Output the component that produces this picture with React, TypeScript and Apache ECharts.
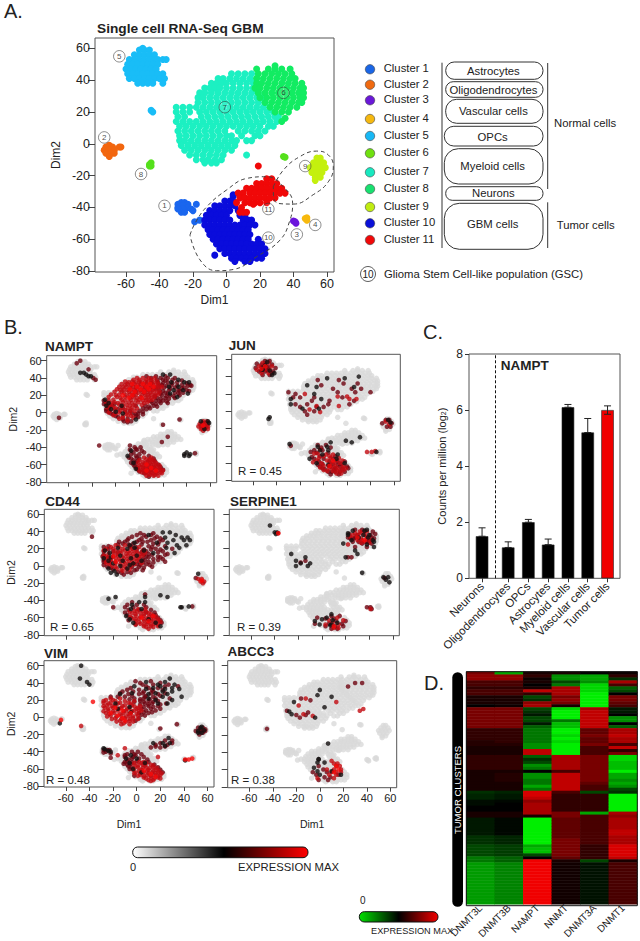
import React, { useEffect, useRef } from "react";
import * as echarts from "echarts";

// Scatter points are rows: [y, x1, x2, ...] in Dim1/Dim2 units.
type Rows = number[][];
const c1: Rows = [[-37,-27,-25],[-38,-29,-23,-18],[-39,-26],[-40,-29,-23],[-41,-26,-21,-29],[-42,-20],[-43,-27,-25],[-48,-16],[-49,-19]];
const c2: Rows = [[-1,-70],[-2,-72,-68,-64,-63],[-4,-73,-70,-67],[-6,-72,-69,-67],[-8,-70]];
const c3: Rows = [[-48.5,40],[-49,41],[-50,41.5]];
const c4: Rows = [[-46.5,48],[-47,47],[-48,48]];
const c5: Rows = [[60,-50],[59,-52,-49,-46],[56,-55,-52,-49,-46,-43],[53,-58,-55,-52,-49,-46,-43,-41,-38,-36],[50,-59,-56,-53,-50,-47,-44,-41],[47,-60,-57,-54,-51,-48,-45,-42],[44,-59,-56,-53,-50,-47,-44,-41,-38],[41,-58,-55,-52,-49,-46,-43,-40,-37],[38,-53,-50,-47,-44,-38],[21,-45],[20,-44]];
const c6: Rows = [[49,29],[47,18,25,29,33,38],[44,19,23,27,31,35,39],[41,18,22,26,30,34,38,41],[38,18,21,25,29,33,37,41,45],[35,17,20,24,28,32,36,40,44,46],[32,19,23,27,31,35,39,43,46],[29,20,24,28,32,36,40,44,46],[26,23,27,31,35,39,43,45],[23,26,30,34,38,42],[20,29,33,37],[16,35],[14,33]];
const c7: Rows = [[44,3,7,11,15],[41,-5,-2,2,6,10,14,18],[38,-9,-6,-3,0,4,8,12,16],[35,-13,-10,-7,-4,0,4,8,12,16,19],[32,-16,-13,-9,-5,-1,3,7,11,15,19],[29,-17,-14,-10,-6,-2,2,6,10,14,18,22],[26,-17,-13,-9,-5,-1,3,7,11,15,19,23],[23,-30,-26,-22,-18,-14,-10,-6,-2,2,6,10,14,18,22,26],[20,-30,-26,-22,-16,-12,-8,-4,0,4,8,12,16,20,24,28],[17,-29,-25,-15,-11,-7,-3,1,5,9,13,17,21,25,29,31],[14,-30,-26,-22,-18,-14,-10,-6,-2,2,6,10,14,18,22,26,30],[11,-28,-24,-20,-16,-12,-8,-4,0,4,8,12,16,20,25,28],[8,-29,-25,-21,-17,-13,-9,-5,-1,7,11,15,19,23],[5,-28,-24,-20,-16,-12,-8,-4,0,3,9,17,20],[2,-28,-25,-21,-17,-13,-9,-5,-1,3,6,12,15],[-1,-27,-23,-19,-15,-11,-7,-3,1,5],[-4,-25,-21,-17,-13,-9,-5,-1,3],[-7,-22,-18,-14,-10,-6,-2,12],[-10,-18,-14,-11,-7,-3],[-12,-13,-9,-6]];
const c8: Rows = [[-12,-45],[-13,-46],[-14,-46,-45],[-8,34],[-8.5,35]];
const c9: Rows = [[-9,54,56],[-12,52,55,58],[-15,50,53,56,59],[-18,51,54,57],[-21,53,56],[-23,53]];
const c10: Rows = [[-32,4],[-33,4],[-36,-1,2,4],[-39,-7,-4,-1,2,5],[-42,-10,-7,-4,-1,2,7],[-45,-12,-9,-6,-3,0,8,11],[-48,-13,-10,-7,-4,-1,2,10,13,15],[-51,-13,-10,-7,-4,-1,2,5,8,11,14,17],[-54,-11,-8,-5,-2,1,4,7,10,13],[-57,-10,-7,-4,-1,2,5,8,11,14],[-60,-8,-5,-2,1,4,7,10,13,19],[-63,-6,-3,0,3,6,9,12,15,18,21],[-66,-4,-1,2,5,8,11,14,17,20,23],[-69,-1,2,5,8,11,14,17,20,23],[-70,-7],[-72,3,6,9,12,15,18,21],[-74,5,11,14]];
const c11: Rows = [[-14,19],[-22,24,27],[-25,18,21,24,27,30],[-28,12,15,18,21,24,27,30,33],[-31,7,10,14,17,20,23,26,29,32,35],[-34,8,11,14,17,20,23,26,29],[-37,6,11,14,17,20,24],[-38,16],[-40,9],[-43,8,10,12]];

const clusterRows = [c1, c2, c3, c4, c5, c6, c7, c8, c9, c10, c11];
const clusterColors = ["#1a66ee", "#f2660f", "#6a14dc", "#f7b90e", "#19bdf7", "#12ec62", "#1cf0c2", "#55e01c", "#c4f00e", "#0a0cdc", "#f00808"];
const legendColors = ["#1a66e6", "#f06a10", "#6a18d8", "#f5b810", "#18b8f5", "#70e010", "#18e8c0", "#18e070", "#c0ec10", "#0a10d8", "#f00808"];
const clusterNames = ["Cluster 1", "Cluster 2", "Cluster 3", "Cluster 4", "Cluster 5", "Cluster 6", "Cluster 7", "Cluster 8", "Cluster 9", "Cluster 10", "Cluster 11"];
const clusterMarks = [[-37,-39,1],[-73,4,2],[42,-57,3],[53,-51,4],[-64,55,5],[34,32,6],[-1,23,7],[-51,-19,8],[47,-14,9],[25,-59,10],[25,-41,11]];
const gscOutline = [[-21.8,-57.4],[-18.8,-50],[-11.8,-39.6],[0.1,-29],[12,-21.8],[24,-20.7],[33.9,-27],[39.5,-37.5],[37.9,-48],[32,-60.5],[18,-71],[4.1,-79],[-5.9,-79.8],[-15.8,-73],[-21.8,-57.4]];
const c9Outline = [[28,-27],[34,-16.5],[43.9,-8],[53.8,-4.6],[60.8,-7],[63.8,-14.4],[60.8,-23.9],[51.8,-32],[39.9,-37.9],[31,-37.5],[28,-32.3],[28,-27]];

// Expression panels: bright / high / mid / low tiers.
const namptTop: Rows = [[33,-6,3,9],[30,-2,6,12],[27,-8,1,8],[24,-4,4],[20,-14,-6],[17,-9,2],[-60,6],[-64,10],[-67,6,14],[-15,54]];
const namptHigh: Rows = [[38,-5,0,6,10],[35,-9,-3,2,7,12],[32,-12,-7,-1,4,9,14],[29,-14,-8,-3,3,7,12,17],[26,-16,-10,-4,1,6,11],[23,-13,-6,-1,4,9,15],[20,-20,-11,-5,2,7,13],[17,-16,-8,-2,5,10],[14,-26,-12,-3,3,8],[11,-24,-18,-6,4],[8,-27,-14,-8],[5,-20,-10,-2],[2,-25,-16,-4],[-1,-20,-11],[-4,-14,-7],[-7,-17],[-12,54,56],[-15,52,55,57],[-18,53,56],[-54,6,9],[-57,3,7,11],[-60,2,6,10,14],[-63,1,5,8,12,15],[-66,3,7,10,14,18],[-69,2,6,10,14,18],[-72,9,13],
  [40,-2,3,8,13],[36,-12,-6,0,5,10,15],[33,-15,-10,-4,1,6,11,16],[30,-17,-11,-5,0,5,10,15,19],[27,-19,-13,-7,-2,4,9,14],[24,-21,-15,-9,-3,2,7,12,17],[21,-24,-17,-8,-3,5,10,16],[18,-26,-19,-12,-5,1,8,13],[15,-22,-15,-7,0,6,11],[12,-28,-21,-14,-9,-1,7],[9,-24,-17,-11,-4,2],[6,-27,-22,-15,-6],[3,-21,-12,-7],[0,-26,-17,-8],[-3,-22,-10],[-6,-14,-5],[-9,-10],[-52,4,10],[-55,0,8,12],[-58,-1,5,9,14],[-61,0,4,8,12,17],[-64,-2,3,6,10,13,17],[-67,0,4,8,12,16,20],[-70,5,8,11,15,19],[-73,6,12,16],[-10,54,57],[-13,51,53,58],[-16,50,54,58],[-19,52,55,58],[-21,54]];
const namptMid: Rows = [[42,6,14,22],[38,15,20,28],[35,16,24,32],[32,19,27,36,43],[29,21,30,38],[26,17,25,33,40],[23,22,30,37],[20,19,26,34],[17,15,22,30],[14,-30,14,20],[11,-28,11,18,24],[8,-23,-3,5,12],[5,-26,-14,3,9],[2,-28,-8,0],[-1,-24,-6,-1],[-4,-20,-3],[-7,-10],[-10,-13,-7],[-40,-4,1],[-43,-8,-2],[-46,-5,4],[-50,-3,8],[-53,-7,0,12],[-56,-2,13],[-60,-5,16],[-63,-2,18],[-66,-1,20],[-70,4],[-74,8],[-8,34],[-14,20],[-47,47],[-28,24],[-34,19],[-38,-34],[-6,-68],[57,-53],[50,-43],[38,-37],[40,-39],[60,-50],
  [40,10,18,24,30],[37,22,36],[34,10,20,28,40],[31,17,23,32,41,44],[28,14,26,36],[25,20,34,42],[22,18,24,33],[19,13,23,29],[16,18,25],[13,10,17,23],[10,-30,-21,14],[7,-25,8,15],[4,-28,-18,6],[1,-26,-12,3],[-2,-22,-3,3],[-5,-18,-1],[-8,-14],[-11,-10],[-38,-8],[-42,-3],[-44,2],[-48,-7,0],[-52,-9,-2],[-55,-5],[-58,-7,-3],[-62,-4],[-65,-2],[-68,0]];
const namptLow: Rows = [[44,20,26],[38,33],[35,27,38,42],[30,25,33],[26,29,37],[22,26,41],[18,32],[15,-29],[11,-26],[8,-28,-15],[4,-24],[1,-20],[-1,-14],[-10,52,58],[-12,59],[-19,55],[-48,38,43],[-50,38,42],[-46,40],[-44,-7],[-50,-10],[-58,-5],[-8,-3],[46,-50,-47],[44,-45],[42,-43,-41],[-65,-3]];

const junTop: Rows = [[52,-50],[49,-53],[-63,5],[-57,8]];
const junHigh: Rows = [[56,-52,-47],[52,-55,-49,-44],[48,-57,-50,-46],[44,-53,-47],[20,-16],[17,12,20],[14,22,28],[6,-6,13],[2,-12],[-1,-3],[-12,53],[-15,56],[-47,37,41],[-46,44],[-44,-3],[-50,2,8],[-54,-4,6,13],[-57,-6,3,11,16],[-60,-2,6,14],[-63,0,4,10,17],[-66,5,12,19],[-69,3,8,14],[-72,11,15],[-49,-8,-5],[-52,0,5],[-59,-9,9],[-65,-3,8,16],[-68,0,11,17]];
const junMid: Rows = [[58,-50,-46],[54,-53,-44],[50,-58,-48,-41],[46,-55,-50,-43],[42,-52,-46],[36,-5,13],[32,17,29],[30,-2],[26,8,24,32],[22,-30,12,27,40],[20,-24],[16,-26,-20,-8,16],[12,-10,5,26],[8,-24,-14,4,22],[5,-20,-6,0],[0,-16,-8],[-4,-14],[-10,53,56],[-14,50,58],[-18,54,57],[-40,-28],[-39,-5,2],[-42,-2,6],[-45,-8,-1],[-48,-6,4],[-52,-3,10],[-55,-8,0,8],[-58,-4,5,12,18],[-61,-1,8,15],[-64,-3,6,14,20],[-67,1,9,16],[-70,4,10,18],[-73,6,13],[55,-57,-50],[51,-47,-53],[47,-53,-48],[44,-44],[-47,-11],[-53,-10],[-62,-5,12],[-66,-1,10,21],[-70,14,7]];
const junLow: Rows = [[57,-48],[53,-50],[50,-52],[47,-46],[44,-42],[38,3,18],[28,-6,26],[20,-8],[14,-28,-2],[8,-28],[3,-18,-4],[-7,-46],[-9,-47],[-36,6],[-38,-29],[-41,-5,3],[-45,-3,4],[-50,-1,12],[-55,-12,11],[-60,-6,18],[-62,4],[-10,55],[-34,19],[-36,24],[-13,57],[-47,45],[-30,31],[48,-52],[42,-44],[30,-14],[40,30]];

const cd44Top: Rows = [[11,-20],[5,-18],[-60,4],[-64,10],[-58,14],[-17,55]];
const cd44High: Rows = [[24,-18,-10],[20,-26,-20,-12,-4],[17,-14,-7,0],[14,-24,-17,-9,-3,3],[11,-26,-20,-12,-5,2],[8,-22,-15,-8,-1],[5,-26,-18,-11,-4],[2,-23,-14,-7,-2],[-1,-18,-10],[-4,-13,-6],[-15,52,55],[-18,54,57],[-20,56],[-52,-2,5],[-55,-4,3,10],[-58,-1,6,13],[-61,-4,2,9,15],[-64,-1,6,12,18],[-67,3,9,15],[-70,6,12,18],[-73,10],
  [22,-22,-15,-6,2],[18,-28,-18,-10,-3,5],[15,-20,-13,-6,0,7],[12,-28,-16,-8,-1,5],[9,-25,-18,-11,-4,2],[6,-22,-14,-7,0],[3,-26,-18,-10,-3,4],[0,-21,-13,-5],[-3,-17,-9],[-6,-12],[-50,1,7],[-53,-6,0,8],[-56,-1,6,12],[-59,-6,3,10,16],[-62,-1,6,12,18],[-65,2,9,15,20],[-68,-1,6,12,18],[-71,8,14]];
const cd44Mid: Rows = [[38,3,14],[34,-4,8,17],[30,-8,2,12,22],[28,-15,5],[26,-12,-3,14],[23,-24,-5,10,24],[20,0,16,30],[17,-28,-20,8,22],[14,10,26],[11,-29,8,18],[8,5,14,22],[5,-28,2,10,24],[2,0,8],[-1,-25,-4,2,13],[-4,-20,0],[-7,-16,-8],[-10,-11],[34,-38],[-14,50],[-42,-4],[-45,-8,0,6],[-48,-10,-3,8],[-51,-7,2,12],[-54,-10,8,15],[-57,-8,16],[-60,-5,18],[-63,-7,20],[-66,21],[-68,-1],[-33,7],[-48,-20],[-47,47],
  [36,0,6,12],[32,-7,4,15,20],[28,-10,0,9,19],[25,-16,-7,4,18],[22,-28,-1,13],[19,-24,6,12,20],[16,-16,4,18],[13,-28,6,13,24],[10,-24,10,20],[7,-28,7,18],[4,-23,5,14],[1,-28,3,11],[-2,-22,6],[-5,-2,5],[-8,-13,-5]];
const cd44Low: Rows = [[39,22,28],[36,10,33],[33,24,38,43],[30,31,40,45],[27,17,26],[24,-6,34,42],[21,-16,-2,25,36],[18,-27,6],[15,-23,14,32],[12,-14,0],[9,-28,-5],[6,-24,-12,4],[3,-20,-3],[0,-14],[-3,-24,-8],[-6,-19],[-9,52],[-36,-18,7],[-38,-24],[-36,26],[-48,37,38],[-47,44],[-42,2,7],[-45,-4],[-50,-5,4],[-58,-9],[-62,-6,10],[-66,-3,16],[-70,20],[-34,20],[27,-2],[20,-8],[10,-22],[1,-6],[-8,-22],[-10,-17]];

const serTop: Rows = [[33,30],[30,36],[38,-37],[-70,10]];
const serHigh: Rows = [[38,28,33],[34,24,38],[30,30,34,41],[28,36],[25,22],[-50,41],[-60,13],[-63,6,18],[-66,9],[-68,3,14],[-72,10,14],[38,-37],[40,32,38],[36,26,30,36],[32,33,38],[27,33,40]];
const serMid: Rows = [[40,36,43],[36,30,41],[32,24,27,44],[29,40],[26,34,42],[22,28,38],[10,22,25],[6,-14],[4,-18],[-48,41],[-50,42],[-58,8,15],[-61,3,10],[-64,12,20],[-67,-6,6,17],[-70,3,11,18],[-73,8,13],[-14,53],[-48,38],[-60,-4],[42,28,34],[37,23,45],[33,22,28,42],[28,26,31,38]];
const serLow: Rows = [[47,-44],[41,26,36],[39,-40,-38],[37,-39],[36,22,35,40],[33,31,39],[30,25,43],[26,18],[22,44],[14,-26],[10,-14,20],[6,-22],[3,-10,-18],[0,-22,-12],[-8,34],[-13,52,56],[-16,54],[-19,57],[-56,8],[-60,4],[-63,9],[-66,13],[-68,-2,8],[-64,-6],[-62,0],[-69,7],[42,38],[38,22],[28,44],[25,38],[18,28],[14,30]];

const vimTop: Rows = [[11,-18],[8,-12],[5,-22,-5],[2,-16],[-1,-12],[-4,-10],[18,-37],[-3,-64],[-49,41,44],[-48,47],[-66,12],[-69,16],[-62,6]];
const vimHigh: Rows = [[20,-26,-20],[17,-28,-22,-14,-7],[14,-25,-18,-10,-4],[11,-27,-20,-13,-6,1],[8,-24,-16,-9,-2,4],[5,-26,-19,-11,-5],[2,-22,-13,-6,1],[-1,-18,-10,-3],[-4,-14,-6],[-7,-11],[-10,-47],[-44,-16],[-52,2,6],[-55,-2,5,12],[-58,1,8,14],[-61,-3,4,10,16],[-64,-1,6,13,18],[-67,3,9,15,20],[-70,6,12,18],[-73,10,14],[-46,18],[-36,-10],
  [22,-22,-14],[19,-28,-18,-10,-2],[16,-24,-16,-5],[13,-28,-21,-12,-2,3],[10,-24,-15,-8,0],[7,-28,-20,-11,-4,2],[4,-23,-14,-7,0],[1,-25,-17,-9,-3],[-2,-21,-13,-6,1],[-5,-17,-9,-3],[-8,-13,-6],[-53,-2,4,8],[-56,1,7,14],[-59,-2,5,11,17],[-62,2,9,14,19],[-65,-2,3,10,16,21],[-68,1,6,12,18],[-71,8,15,20],[-74,12]];
const vimMid: Rows = [[42,12,-1],[38,5,14,27],[34,-5,10,18],[30,-12,-3,6,14],[27,-7,2,18],[24,-22,-16,-10,7,14],[21,-6,3,11],[18,-2,6,14],[15,3,10,20],[12,6,14],[8,8,16],[5,2,10],[2,7],[-1,2],[-4,-1],[-12,52,56],[-16,50,54,58],[-20,53],[-27,24,30],[-32,16,26],[-35,12,20],[-38,-28,-23],[-40,-26],[-42,-22],[-8,34],[-13,20],[-40,-4,1],[-43,-8,-2,4],[-46,-10,-3,6],[-49,-7,9],[-52,-10,-4,10],[-55,-8,15],[-58,-5,18],[-61,20],[-64,22],[-68,-2],[-47,-22],
  [40,3,20],[36,8,24,35],[32,-8,2,13,22],[28,-14,5,12,24],[25,-4,8,20],[22,-2,6,16,28],[19,3,10,18],[16,7,13,25],[13,10,18],[10,4,12,20],[6,6,13],[3,4],[-14,54,58],[-18,56],[-30,20,30],[-34,16,24],[-38,-25],[-41,-28],[-44,-1,-10],[-48,-4,2],[-51,-8,0],[-54,-11,-5],[-57,-7],[-60,-6]];
const vimLow: Rows = [[45,-48,28],[41,-42,8,24],[38,-40,18,32],[36,-2,20],[33,8,24,36],[30,22,30],[27,-14,10,26],[24,22,38],[20,16,30],[16,-18,18,26],[10,-16],[6,-5],[-7,-65],[-12,54],[-15,57],[-18,52,55],[-24,27],[-30,14,22,28],[-33,24],[-37,-27],[-39,-24],[-44,-5],[-48,-9,0],[-53,-6,7],[-60,-3],[-64,4],[-50,41],[60,-47],[34,14,30],[28,-4,16],[22,10],[12,-6],[-36,-28],[-40,-22],[-11,55],[-16,52]];

const abcTop: Rows = [[-56,14],[-60,16],[-63,12]];
const abcHigh: Rows = [[22,-12],[18,14],[14,-18],[10,37],[8,34],[4,-14],[2,-6],[-50,10],[-53,12,15],[-56,14,17],[-60,6,12,18],[-63,10,14,18],[-66,8,14],[-70,-2,12]];
const abcMid: Rows = [[40,30,36],[36,24],[22,-16],[20,-8],[8,-28],[6,-10],[3,-20,-12],[0,-17],[-13,-45],[-56,-1],[-60,3],[-63,-6,6],[-66,-3,16],[-69,4,9],[-72,-1,7]];
const abcLow: Rows = [[32,0],[26,-2],[24,10],[18,-22],[12,4],[7,-26],[4,-24],[0,-4],[-30,7],[-48,-1,-1],[-52,-2,4],[-58,-5],[-62,-2,10],[-66,0,18]];

// Panel C
const barNames = ["Neurons", "Oligodendrocytes", "OPCs", "Astrocytes", "Myeloid cells", "Vascular cells", "Tumor cells"];
const barSlots = [0.66, 1.98, 3, 4, 5, 6, 7];
const barValues = [1.5, 1.1, 2.0, 1.2, 6.1, 5.2, 6.0];
const barTops = [1.8, 1.3, 2.1, 1.4, 6.2, 5.7, 6.15];
const barBottoms = [1.5, 1.1, 2.0, 1.2, 6.1, 5.2, 5.85];
const barFill = ["#000", "#000", "#000", "#000", "#000", "#000", "#f00000"];

// Panel D: one list per column, top row first
const heatColumns = ["DNMT3L", "DNMT3B", "NAMPT", "NNMT", "DNMT3A", "DNMT1"];
const hDNMT3L = [5,6,6,3,3,2,3,3,1,1, 1,0,5,5,5,5,5,5,5,2, 2,2,2,1.5,1.5,1,1,1,2,2, 2,2,2,1,1,1,1,1,1,1, -2,-1.5,-1.5,-0.5,-0.5,0,0,1,1,-1, -1,-1,-1,-1,-1,-2,-2,-2,-3,-3, -3,-3,-5,-5,-6.5,-6.5,-6.5,-6.5,-6.5,-6.5, -6.5,-6.5,-6.5,-6.5,-6.5,-6.5,-6.5,-6.5];
const hDNMT3B = [-7,6,6,3,3,2,3,3,1,1, 1,0.5,5,5,5,5,5,5,5,2, 2,2,2,2,1.5,1,1,1,2,2, 2,2,2,1,1.5,1.5,1.5,1,1,1, -1.5,-1,-1,-0.3,0,0,0,1,1,-0.3, -0.3,-0.3,-0.3,-0.3,-0.3,-1.5,-1.5,-1.5,-2.5,-2.5, -2.5,-2.5,-4,-4,-5.5,-5.5,-5.5,-5.5,-5.5,-5.5, -5.5,-5.5,-5.5,-5.5,-5.5,-5.5,-5.5,-5.5];
const hNAMPT = [1,2,0.5,1,0,1,8,2,-3,-2, 6,7,-3,-2,-1,-3,-3,-1,-4,-5, -5,-5,-5,-5,-6,-6,8,8,-4,-2, -3,-6,-5,0,-6,-6,-5,-5,-7,-5, 9,9,8,6,7,7,7,7,1,-10, -10,-10,-10,-10,-10,-10,-10,-10,-7,-8, -8,-3,0,10,10,10,10,10,10,10, 10,10,10,10,10,10,10,10];
const hNNMT = [1,-6,-6,-3,-5,7,7,7,5,6, 5,1,-9,-10,-10,-10,-5,-8,-8,-10, -10,-9,-10,-9,-10,-10,-10,-10,7,7, 7,7,7,3,8,8,8,8,8,8, 3,2,2,2,2,2,2,5,5,4, 4,4,4,4,4,4,5,5,5,5, 5,5,4,1,0.7,0.7,0.7,0.7,0.7,0.7, 0.7,0.7,0.7,0.7,0.7,0.7,0.7,0.7];
const hDNMT3A = [0,-7,-7,-6,-9,-9,-9,-10,-10,-10, -10,-10,7,8,8,8,8,8,8,4, 4,5,4,4,5,3,3,3,5,5, 5,5,5,5,5,5,5,4,3,3, -3,2,2,2,2,2,2,-7,3,3, 3,3,3,3,3,3,3,3,2,2, 2,2,2,-3,-0.7,-0.7,-0.7,-0.7,-0.7,-0.7, -0.7,-0.7,-0.7,-0.7,-0.7,-0.7,-0.7,-0.7];
const hDNMT1 = [0.5,2,-2,7,3,-4,-3,0,5,5, 4,3,-1,-1,0,-6,-6,0,-4,7, 7,8,7,7,3,8,2,5,-9,-9, -8,-8,-8,-10,-7,-7,-6,-7,-6,-3, -2,-10,-10,-10,-10,-10,-10,7,6,7, 7,7,7,8,8,7,7,7,9,9, 9,9,8,1,3,3,3,3,3,3, 3,3,3,3,3,3,3,3];
const heatValues = [hDNMT3L, hDNMT3B, hNAMPT, hNNMT, hDNMT3A, hDNMT1];

const xTicks = [-60, -40, -20, 0, 20, 40, 60];
const yTicks = [-80, -60, -40, -20, 0, 20, 40, 60];

const expand = (rows: Rows) => rows.flatMap((r) => r.slice(1).map((x) => [x, r[0]]));
const FONT = '"Liberation Sans", Arial, sans-serif';
const INK = "#222";

const txt = (text: string, x: number, y: number, size: number, o: any = {}) => ({
  type: "text", x, y, z: 50, rotation: o.rotation ?? 0, silent: true,
  style: {
    text, fill: o.fill ?? INK, font: `${o.bold ? "bold " : ""}${size}px ${FONT}`,
    align: o.align ?? "left", verticalAlign: "middle", textAlign: o.align ?? "left", textVerticalAlign: "middle",
  },
});
const box = (x0: number, y0: number, x1: number, y1: number, r: number, label: string, ly?: number, size = 11.3) => [
  { type: "rect", z: 40, shape: { x: x0, y: y0, width: x1 - x0, height: y1 - y0, r }, style: { fill: "#fff", stroke: "#333", lineWidth: 1 } },
  txt(label, (x0 + x1) / 2 - 1, ly ?? (y0 + y1) / 2, size, { align: "center" }),
];
const vline = (x: number, y0: number, y1: number) => ({ type: "line", z: 40, shape: { x1: x, y1: y0, x2: x, y2: y1 }, style: { stroke: "#333", lineWidth: 1 } });

const tsneAxes = (grid: number, showX: boolean, showY: boolean, nameX: boolean, nameY: boolean, size: number, ranges: number[], tick = 4) => {
  const common = { type: "value", gridIndex: grid, splitLine: { show: false }, axisLine: { show: false, onZero: false }, nameLocation: "middle", nameTextStyle: { color: INK, fontFamily: FONT, fontSize: size - 0.5 } };
  const lab = { color: INK, fontFamily: FONT, fontSize: size, margin: 5 };
  return {
    x: { ...common, min: ranges[0], max: ranges[1], name: nameX ? "Dim1" : "", nameGap: grid === 0 ? 22 : 31, axisTick: { length: tick, lineStyle: { color: "#444" }, customValues: xTicks }, axisLabel: showX ? { ...lab, customValues: xTicks } : { show: false } },
    y: { ...common, min: ranges[2], max: ranges[3], name: nameY ? "Dim2" : "", nameGap: grid === 0 ? 33 : 28, axisTick: { length: tick + 2, lineStyle: { color: "#444" }, customValues: yTicks }, axisLabel: showY ? { ...lab, customValues: yTicks } : { show: false } },
  };
};

export default function App() {
  const ref = useRef<HTMLDivElement>(null);
  useEffect(() => {
    const chart = echarts.init(ref.current!, null, { renderer: "svg" });
    const grids: any[] = [
      { left: 95, top: 38, width: 239, height: 234 },
      { left: 46.7, top: 355.7, width: 170, height: 127 },
      { left: 231.7, top: 354.3, width: 168.6, height: 127 },
      { left: 44.3, top: 509.3, width: 169.7, height: 126.4 },
      { left: 229.3, top: 509.3, width: 170, height: 126.4 },
      { left: 44, top: 660.7, width: 170, height: 126.3 },
      { left: 227.7, top: 660.7, width: 169, height: 127 },
      { left: 469, top: 354, width: 151, height: 224.3 },
      { left: 466.3, top: 671.7, width: 171, height: 234 },
    ].map((g, i) => ({ ...g, show: i < 8, borderColor: "#555", borderWidth: 1, backgroundColor: "transparent", containLabel: false }));

    const xAxes: any[] = [];
    const yAxes: any[] = [];
    const series: any[] = [];
    const aAxes = tsneAxes(0, true, true, true, true, 12.5, [-78.5, 64.2, -80.6, 66.5], 5);
    xAxes.push(aAxes.x); yAxes.push(aAxes.y);

    const geneLayout = [
      { name: "NAMPT", tiers: [namptLow, namptMid, namptHigh, namptTop], sx: false, sy: true, nx: false, ny: true },
      { name: "JUN", tiers: [junLow, junMid, junHigh, junTop], sx: false, sy: false, nx: false, ny: false },
      { name: "CD44", tiers: [cd44Low, cd44Mid, cd44High, cd44Top], sx: false, sy: true, nx: false, ny: true },
      { name: "SERPINE1", tiers: [serLow, serMid, serHigh, serTop], sx: false, sy: false, nx: false, ny: false },
      { name: "VIM", tiers: [vimLow, vimMid, vimHigh, vimTop], sx: true, sy: true, nx: true, ny: true },
      { name: "ABCC3", tiers: [abcLow, abcMid, abcHigh, abcTop], sx: true, sy: false, nx: true, ny: false },
    ];
    geneLayout.forEach((g, i) => {
      const ax = tsneAxes(i + 1, g.sx, g.sy, g.nx, g.ny, 11, [-78.4, 65.4, -81, 65.8]);
      xAxes.push(ax.x); yAxes.push(ax.y);
    });
    // Panel C axes
    xAxes.push({
      type: "value", gridIndex: 7, min: 0, max: 7.63, splitLine: { show: false }, axisLine: { show: false, onZero: false },
      axisTick: { length: 4, lineStyle: { color: "#333" }, customValues: barSlots },
      axisLabel: { customValues: barSlots, rotate: 45, margin: 6, color: INK, fontFamily: FONT, fontSize: 11.5, formatter: (v: number) => barNames[barSlots.indexOf(v)] ?? "" },
    });
    yAxes.push({
      type: "value", gridIndex: 7, min: 0, max: 8, interval: 2, splitLine: { show: false }, axisLine: { show: false, onZero: false },
      axisTick: { length: 4, lineStyle: { color: "#333" } },
      axisLabel: { color: INK, fontFamily: FONT, fontSize: 12, margin: 6 },
      name: "{a|Counts per million (log}{b|2}{a|)}", nameLocation: "middle", nameGap: 22,
      nameTextStyle: { rich: { a: { fontFamily: FONT, fontSize: 11, color: INK }, b: { fontFamily: FONT, fontSize: 7, color: INK, verticalAlign: "bottom" } } },
    });
    // Panel D axes
    xAxes.push({
      type: "category", gridIndex: 8, data: heatColumns, axisLine: { show: false, onZero: false }, axisTick: { show: false }, splitLine: { show: false },
      axisLabel: { interval: 0, rotate: 45, margin: 2, color: INK, fontFamily: FONT, fontSize: 10 },
    });
    yAxes.push({
      type: "category", gridIndex: 8, inverse: true, data: heatValues[0].map((_, r) => String(r)),
      axisLine: { show: false }, axisTick: { show: false }, axisLabel: { show: false }, splitLine: { show: false },
    });

    // Panel A scatter (clusters 7 and 6 first, the others above them)
    [6, 5, 4, 0, 1, 2, 3, 7, 8, 9, 10].forEach((ci) => {
      series.push({
        name: clusterNames[ci], type: "scatter", xAxisIndex: 0, yAxisIndex: 0, symbolSize: 7, silent: true,
        itemStyle: { color: clusterColors[ci], opacity: 1 }, data: expand(clusterRows[ci]),
      });
    });
    [gscOutline, c9Outline].forEach((o, i) => series.push({
      name: i ? "outline 9" : "outline GSC", type: "line", xAxisIndex: 0, yAxisIndex: 0, data: o, smooth: 0.45, showSymbol: false, silent: true, z: 4,
      lineStyle: { color: "#444", width: 1, type: [4, 3] },
    }));
    series.push({
      name: "cluster numbers", type: "scatter", xAxisIndex: 0, yAxisIndex: 0, symbolSize: 11.5, z: 5, silent: true, data: clusterMarks,
      itemStyle: { color: "rgba(255,255,255,0.15)", borderColor: "#333", borderWidth: 0.7 },
      label: { show: true, position: "inside", formatter: (p: any) => String(p.value[2]), fontFamily: FONT, fontSize: 8, color: "#222" },
    });

    // Panel B scatter
    const tierColors = ["#141010", "#6e0410", "#c20a10", "#f80808"];
    geneLayout.forEach((g, i) => {
      clusterRows.forEach((rows, ci) => series.push({
        name: `${g.name} base ${ci + 1}`, type: "scatter", xAxisIndex: i + 1, yAxisIndex: i + 1, symbolSize: 5.5, silent: true,
        itemStyle: { color: "#d9d9d9" }, data: expand(rows),
      }));
      g.tiers.forEach((t, k) => series.push({
        name: `${g.name} tier ${k}`, type: "scatter", xAxisIndex: i + 1, yAxisIndex: i + 1, symbolSize: 4.6, silent: true, z: [5, 3, 4, 6][k],
        itemStyle: { color: tierColors[k] }, data: expand(t),
      }));
    });

    // Panel C
    series.push({
      name: "NAMPT counts", type: "bar", xAxisIndex: 7, yAxisIndex: 7, barWidth: 12.5, silent: true,
      itemStyle: { borderColor: "#222", borderWidth: 0.6 },
      data: barValues.map((v, i) => ({ value: [barSlots[i], v], itemStyle: { color: barFill[i] } })),
      markLine: { silent: true, symbol: "none", label: { show: false }, lineStyle: { color: "#111", type: [3, 2], width: 1 }, data: [{ xAxis: 1.33 }] },
    });
    series.push({
      name: "NAMPT error", type: "custom", xAxisIndex: 7, yAxisIndex: 7, silent: true, z: 5,
      data: barSlots.map((x, i) => [x, barBottoms[i], barTops[i]]),
      renderItem: (_: any, api: any) => {
        const a = api.coord([api.value(0), api.value(1)]);
        const b = api.coord([api.value(0), api.value(2)]);
        const st = { stroke: "#222", lineWidth: 1 };
        return { type: "group", children: [
          { type: "line", shape: { x1: a[0], y1: a[1], x2: b[0], y2: b[1] }, style: st },
          { type: "line", shape: { x1: b[0] - 3.5, y1: b[1], x2: b[0] + 3.5, y2: b[1] }, style: st },
          { type: "line", shape: { x1: a[0] - 3.5, y1: a[1], x2: a[0] + 3.5, y2: a[1] }, style: st },
        ] };
      },
    });

    // Panel D
    const heatIndex = series.length;
    series.push({
      name: "heat", type: "heatmap", xAxisIndex: 8, yAxisIndex: 8, silent: true, progressive: 0,
      data: heatValues.flatMap((col, c) => col.map((v, r) => [c, r, v])),
    });

    const legendY = [69.3, 84.7, 100.3, 119, 136, 153.3, 172.3, 189, 207, 223.3, 240];
    const graphic: any[] = [
      txt("A.", 4, 11, 20), txt("B.", 4, 327, 20), txt("C.", 423, 332, 20), txt("D.", 424, 683, 20),
      txt("Single cell RNA-Seq GBM", 97, 28, 13.7, { bold: true }),
      ...clusterNames.flatMap((n, i) => [
        { type: "circle", z: 40, shape: { cx: 370, cy: legendY[i], r: 4.7 }, style: { fill: legendColors[i], stroke: "#444", lineWidth: 0.6 } },
        txt(n, 383.7, legendY[i] - 1, 11.3),
      ]),
      vline(442, 62.7, 248), vline(547.7, 63, 189), vline(547.7, 202.3, 248),
      ...box(445.7, 62, 543, 79.3, 8.5, "Astrocytes", 71),
      ...box(445.7, 81.7, 543, 97.3, 7.5, "Oligodendrocytes", 89.5),
      ...box(445.7, 99.3, 543, 123.3, 11, "Vascular cells", 110.5),
      ...box(444.3, 126.3, 543, 146, 9.5, "OPCs", 137),
      ...box(444.3, 148.7, 543, 184, 14, "Myeloid cells", 166),
      ...box(445.7, 186.7, 543, 200.3, 6.5, "Neurons", 193),
      ...box(444.3, 203.3, 543, 249.3, 15, "GBM cells", 224),
      txt("Normal cells", 554, 122.7, 11.3), txt("Tumor cells", 556.7, 225, 11.3),
      { type: "circle", z: 40, shape: { cx: 368, cy: 274, r: 7.5 }, style: { fill: "#fff", stroke: "#333", lineWidth: 0.8 } },
      txt("10", 368, 274, 10, { align: "center" }),
      txt("Glioma Stem Cell-like population (GSC)", 384, 274, 11.3),
      // panel B headings and R values
      txt("NAMPT", 45, 346.7, 13.5, { bold: true }), txt("JUN", 228.7, 345, 13.5, { bold: true }),
      txt("CD44", 45.3, 501, 13.5, { bold: true }), txt("SERPINE1", 230, 501, 13.5, { bold: true }),
      txt("VIM", 44, 653, 13.5, { bold: true }), txt("ABCC3", 227.5, 651, 13.5, { bold: true }),
      txt("R = 0.45", 238, 470.7, 11.5), txt("R = 0.65", 50, 627, 11.5), txt("R = 0.39", 237, 627, 11.5),
      txt("R = 0.48", 46, 780, 11.5), txt("R = 0.38", 231, 780, 11.5),
      { type: "rect", z: 40, shape: { x: 132.7, y: 847, width: 175.3, height: 10.7, r: 5 }, style: {
        stroke: "#111", lineWidth: 1,
        fill: new echarts.graphic.LinearGradient(0, 0, 1, 0, [
          { offset: 0, color: "#ffffff" }, { offset: 0.52, color: "#000000" }, { offset: 1, color: "#ff0000" },
        ]),
      } },
      txt("0", 130, 867, 11), txt("EXPRESSION MAX", 238, 867, 11.3),
      // panel C
      txt("NAMPT", 500.7, 365, 13.5, { bold: true }),
      // panel D
      { type: "rect", z: 40, shape: { x: 452.3, y: 672.3, width: 10.7, height: 234.4, r: 5.3 }, style: { fill: "#000" } },
      txt("TUMOR CLUSTERS", 457.7, 790, 9.5, { fill: "#fff", align: "center", rotation: Math.PI / 2 }),
      { type: "rect", z: 60, shape: { x: 466.3, y: 671.7, width: 171, height: 234 }, style: { fill: "none", stroke: "#111", lineWidth: 1 } },
      { type: "rect", z: 40, shape: { x: 359.3, y: 911.7, width: 78.7, height: 10.3, r: 5 }, style: {
        stroke: "#111", lineWidth: 1,
        fill: new echarts.graphic.LinearGradient(0, 0, 1, 0, [
          { offset: 0, color: "#00e000" }, { offset: 0.5, color: "#000000" }, { offset: 1, color: "#f00000" },
        ]),
      } },
      txt("0", 360, 900, 10), txt("EXPRESSION MAX", 371, 931, 9.2),
    ];

    chart.setOption({
      animation: false,
      backgroundColor: "#fff",
      grid: grids,
      xAxis: xAxes,
      yAxis: yAxes,
      visualMap: { show: false, seriesIndex: heatIndex, min: -10, max: 10, inRange: { color: ["#00ee00", "#000000", "#f00000"] } },
      series,
      graphic,
    });
    return () => chart.dispose();
  }, []);
  return <div ref={ref} style={{ position: "absolute", left: 0, top: 0, width: 640, height: 941, background: "#fff" }} />;
}
